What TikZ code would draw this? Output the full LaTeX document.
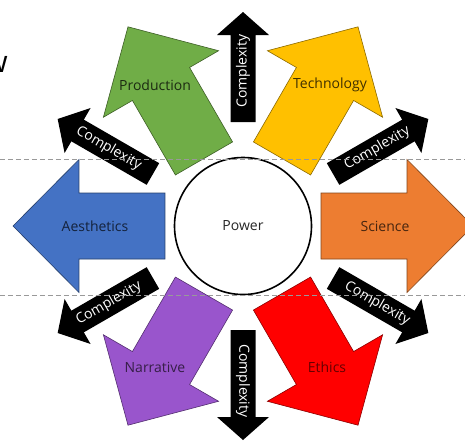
\documentclass[tikz,border=0pt]{standalone}
\usepackage{fontspec}
\setmainfont{Open Sans}
\definecolor{cgreen}{HTML}{70AD47}
\definecolor{cyellow}{HTML}{FFC000}
\definecolor{cblue}{HTML}{4472C4}
\definecolor{corange}{HTML}{ED7D31}
\definecolor{cpurple}{HTML}{9955CC}
\definecolor{cred}{HTML}{FF0000}
\tikzset{
  colarrow/.style={draw=#1!55!black, fill=#1, line width=0.6pt, line join=miter},
  lbl/.style={font=\fontsize{14}{16}\selectfont, inner sep=0pt},
  cx/.style={lbl, text=white},
  guide/.style={draw=black!40, dash pattern=on 5pt off 3pt, line width=0.8pt}
}
\newcommand\ColArrow[2]{%
  \path[colarrow=#2, rotate=#1] (78,-33) -- (164,-33) -- (164,-66.5) -- (230,0)
    -- (164,66.5) -- (164,33) -- (78,33) -- cycle;}
\newcommand\BlkArrow[3]{%
  \fill[black, rotate=#1] (104,-12.5) -- (191,-12.5) -- (191,-26) -- (214,0)
    -- (191,26) -- (191,12.5) -- (104,12.5) -- cycle;
  \node[cx, rotate=#2] (#3) at (#1:155) {Complexity};}
\begin{document}
\begin{tikzpicture}[x=1pt, y=1pt]
  \useasboundingbox (-243,-214) rectangle (222,226);
  \clip (-243,-214) rectangle (222,226);
  \fill[white] (-243,-214) rectangle (222,226);
  % fragment of a letter at the left edge
  \node[font=\fontsize{30}{30}\selectfont, anchor=east, inner sep=0pt] (frag) at (-235,162) {w};
  % coloured arrows
  \ColArrow{120}{cgreen}
  \ColArrow{60}{cyellow}
  \ColArrow{180}{cblue}
  \ColArrow{0}{corange}
  \ColArrow{240}{cpurple}
  \ColArrow{300}{cred}
  \node[lbl, text=cgreen!25!black] (production) at (-88,141) {Production};
  \node[lbl, text=cyellow!25!black] (technology) at (87,141) {Technology};
  \node[lbl, text=cblue!30!black] (aesthetics) at (-148,0) {Aesthetics};
  \node[lbl, text=corange!30!black] (science) at (142,0) {Science};
  \node[lbl, text=cpurple!35!black] (narrative) at (-88,-141) {Narrative};
  \node[lbl, text=cred!40!black] (ethics) at (84,-141) {Ethics};
  % complexity arrows
  \BlkArrow{90}{90}{cup}
  \BlkArrow{30}{30}{cur}
  \BlkArrow{150}{-30}{cul}
  \BlkArrow{210}{30}{cdl}
  \BlkArrow{270}{270}{cdown}
  \BlkArrow{330}{-30}{cdr}
  % centre circle
  \node[circle, draw=black, line width=1.6pt, fill=white, minimum size=137pt,
        lbl, text=black!85] (power) at (0,0) {Power};
  % dashed guides
  \coordinate (g1a) at (-243,67);
  \coordinate (g1b) at (222,67);
  \coordinate (g2a) at (-243,-69);
  \coordinate (g2b) at (222,-69);
  \draw[guide] (g1a) -- (g1b);
  \draw[guide] (g2a) -- (g2b);
\end{tikzpicture}
\end{document}
